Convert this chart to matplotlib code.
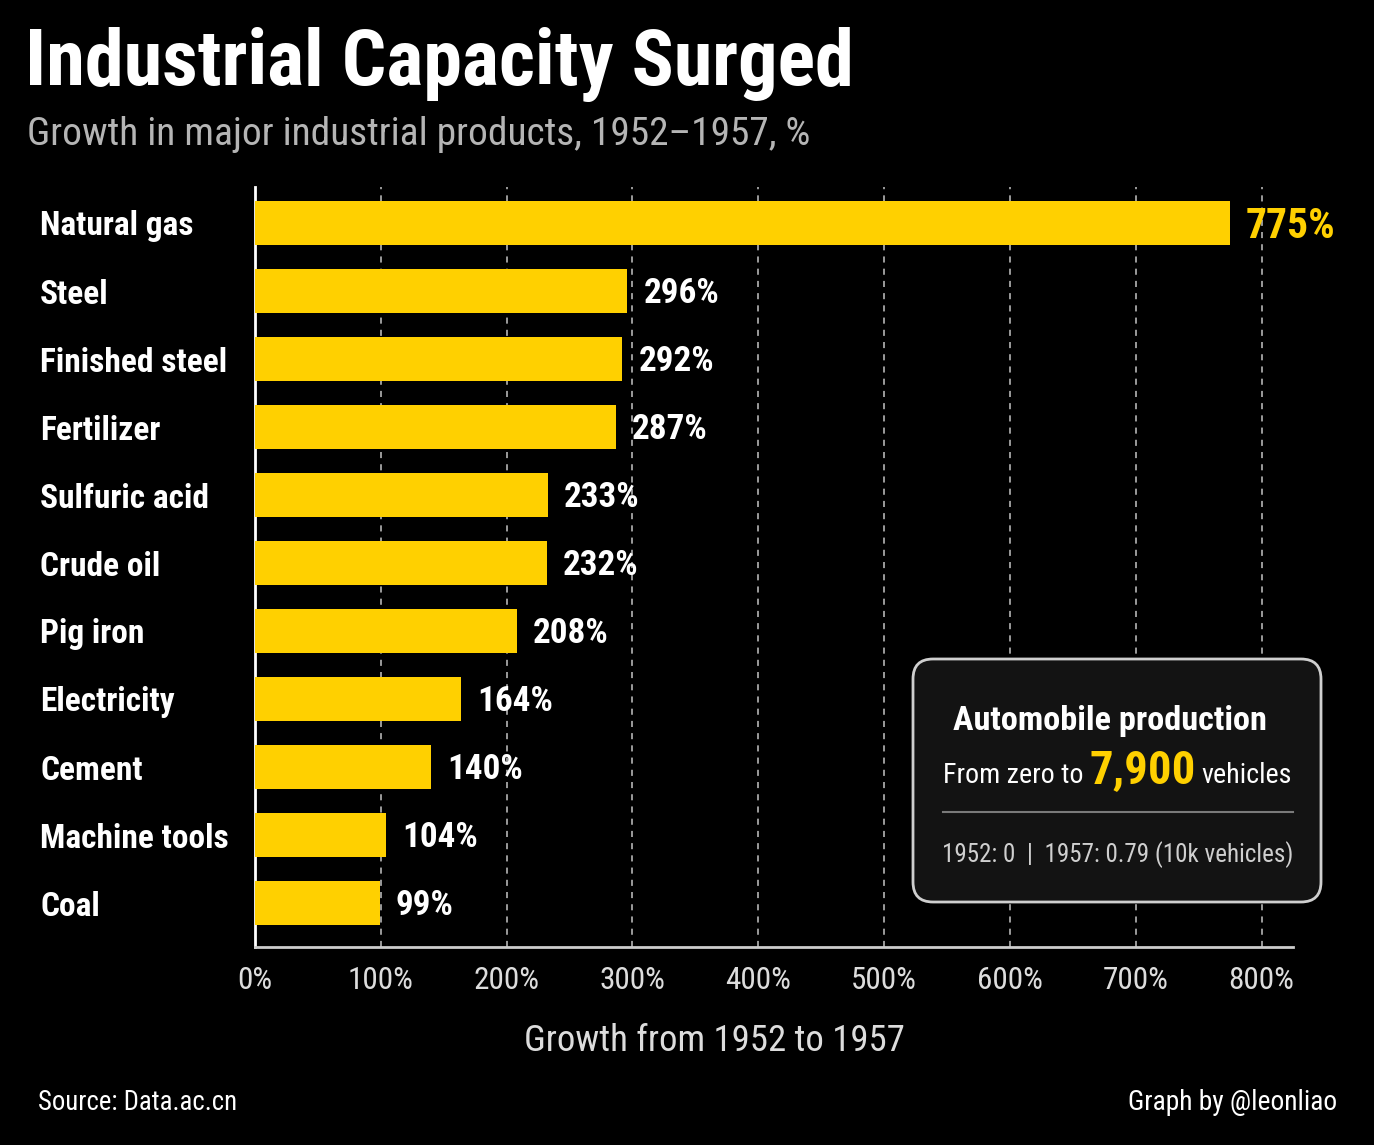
import matplotlib
matplotlib.use("Agg")
import matplotlib.pyplot as plt
import matplotlib.transforms as mtransforms
from matplotlib.patches import FancyBboxPatch
from matplotlib.lines import Line2D

categories = ["Natural gas", "Steel", "Finished steel", "Fertilizer", "Sulfuric acid",
              "Crude oil", "Pig iron", "Electricity", "Cement", "Machine tools", "Coal"]
growth = [775, 296, 292, 287, 233, 232, 208, 164, 140, 104, 99]
xticks = [0, 100, 200, 300, 400, 500, 600, 700, 800]
xtick_labels = [f"{t}%" for t in xticks]

W, H = 1374, 1145
BG = "#000000"
YELLOW = "#FFD000"
COND = ["Roboto Condensed", "DejaVu Sans"]

plt.rcParams['font.family'] = COND

fig = plt.figure(figsize=(W / 100, H / 100), dpi=100, facecolor=BG)
T = mtransforms.Affine2D().scale(1, -1).translate(0, H)  # pixel coords, y down

ax = fig.add_axes([255 / W, 1 - 947 / H, 1038 / W, 760 / H])
ax.set_facecolor(BG)

ypos = list(range(len(categories)))
ax.barh(ypos, growth, height=0.65, color=YELLOW, zorder=3)
ax.set_ylim(10.65, -0.53)
ax.set_xlim(0, 825)

for t in xticks[1:]:
    ax.axvline(t, color="#c4c4c4", lw=1.1, ls=(0, (4, 4)), zorder=1)

for i, v in enumerate(growth):
    if i == 0:
        ax.annotate(f"{v}%", (v, i), xytext=(16, -15), textcoords="offset pixels",
                    color=YELLOW, fontsize=30, fontweight="bold",
                    va="baseline", ha="left", zorder=4)
    else:
        ax.annotate(f"{v}%", (v, i), xytext=(16, -12), textcoords="offset pixels",
                    color="white", fontsize=25.3, fontweight="bold",
                    va="baseline", ha="left", zorder=4)

ax.set_yticks(ypos)
ax.set_yticklabels([])
for i, c in enumerate(categories):
    fig.text(40, 223 + 68 * i + 12.5, c, transform=T, color="white", fontsize=24,
             fontweight="bold", ha="left", va="baseline")

ax.set_xticks(xticks)
ax.set_xticklabels(xtick_labels, color="#dddddd", fontsize=22.5)
ax.tick_params(axis="x", length=0, pad=13.5)
ax.tick_params(axis="y", length=0)
for s in ["top", "right"]:
    ax.spines[s].set_visible(False)
ax.spines["left"].set_color("white")
ax.spines["left"].set_linewidth(2)
ax.spines["bottom"].set_color("#cccccc")
ax.spines["bottom"].set_linewidth(2)

fig.text(714, 1051, "Growth from 1952 to 1957", transform=T, color="#dddddd",
         fontsize=26.5, ha="center", va="baseline")

# Titles
fig.text(25, 85, "Industrial Capacity Surged", transform=T, color="white",
         fontsize=56.3, fontweight="bold", ha="left", va="baseline")
fig.text(27, 145, "Growth in major industrial products, 1952\u20131957, %", transform=T,
         color="#b5b5b5", fontsize=28.4, ha="left", va="baseline")

# Footer
fig.text(38, 1110, "Source: Data.ac.cn", transform=T, color="white", fontsize=19.3,
         ha="left", va="baseline")
fig.text(1337, 1110, "Graph by @leonliao", transform=T, color="white", fontsize=19.8,
         ha="right", va="baseline")

# Annotation box
box = FancyBboxPatch((913, 659), 408, 243, boxstyle="round,pad=0,rounding_size=20",
                     transform=T, facecolor="#131313", edgecolor="#cfcfcf", lw=2,
                     zorder=10)
fig.patches.append(box)
fig.text(1110, 730, "Automobile production", transform=T, color="white", fontsize=24.7,
         fontweight="bold", ha="center", va="baseline", zorder=11)
fig.text(943, 783, "From zero to", transform=T, color="white", fontsize=20.2,
         ha="left", va="baseline", zorder=11)
fig.text(1143, 783, "7,900", transform=T, color=YELLOW, fontsize=33.7, fontweight="bold",
         ha="center", va="baseline", zorder=11)
fig.text(1292, 783, "vehicles", transform=T, color="white", fontsize=20.2,
         ha="right", va="baseline", zorder=11)
fig.lines.append(Line2D([943, 1293], [812, 812], transform=T, color="#7a7a7a", lw=1.5,
                        zorder=11))
fig.text(1118, 862, "1952: 0  |  1957: 0.79 (10k vehicles)", transform=T, color="#cfcfcf",
         fontsize=18, ha="center", va="baseline", zorder=11)

fig.savefig("out.png", dpi=100, facecolor=BG)
